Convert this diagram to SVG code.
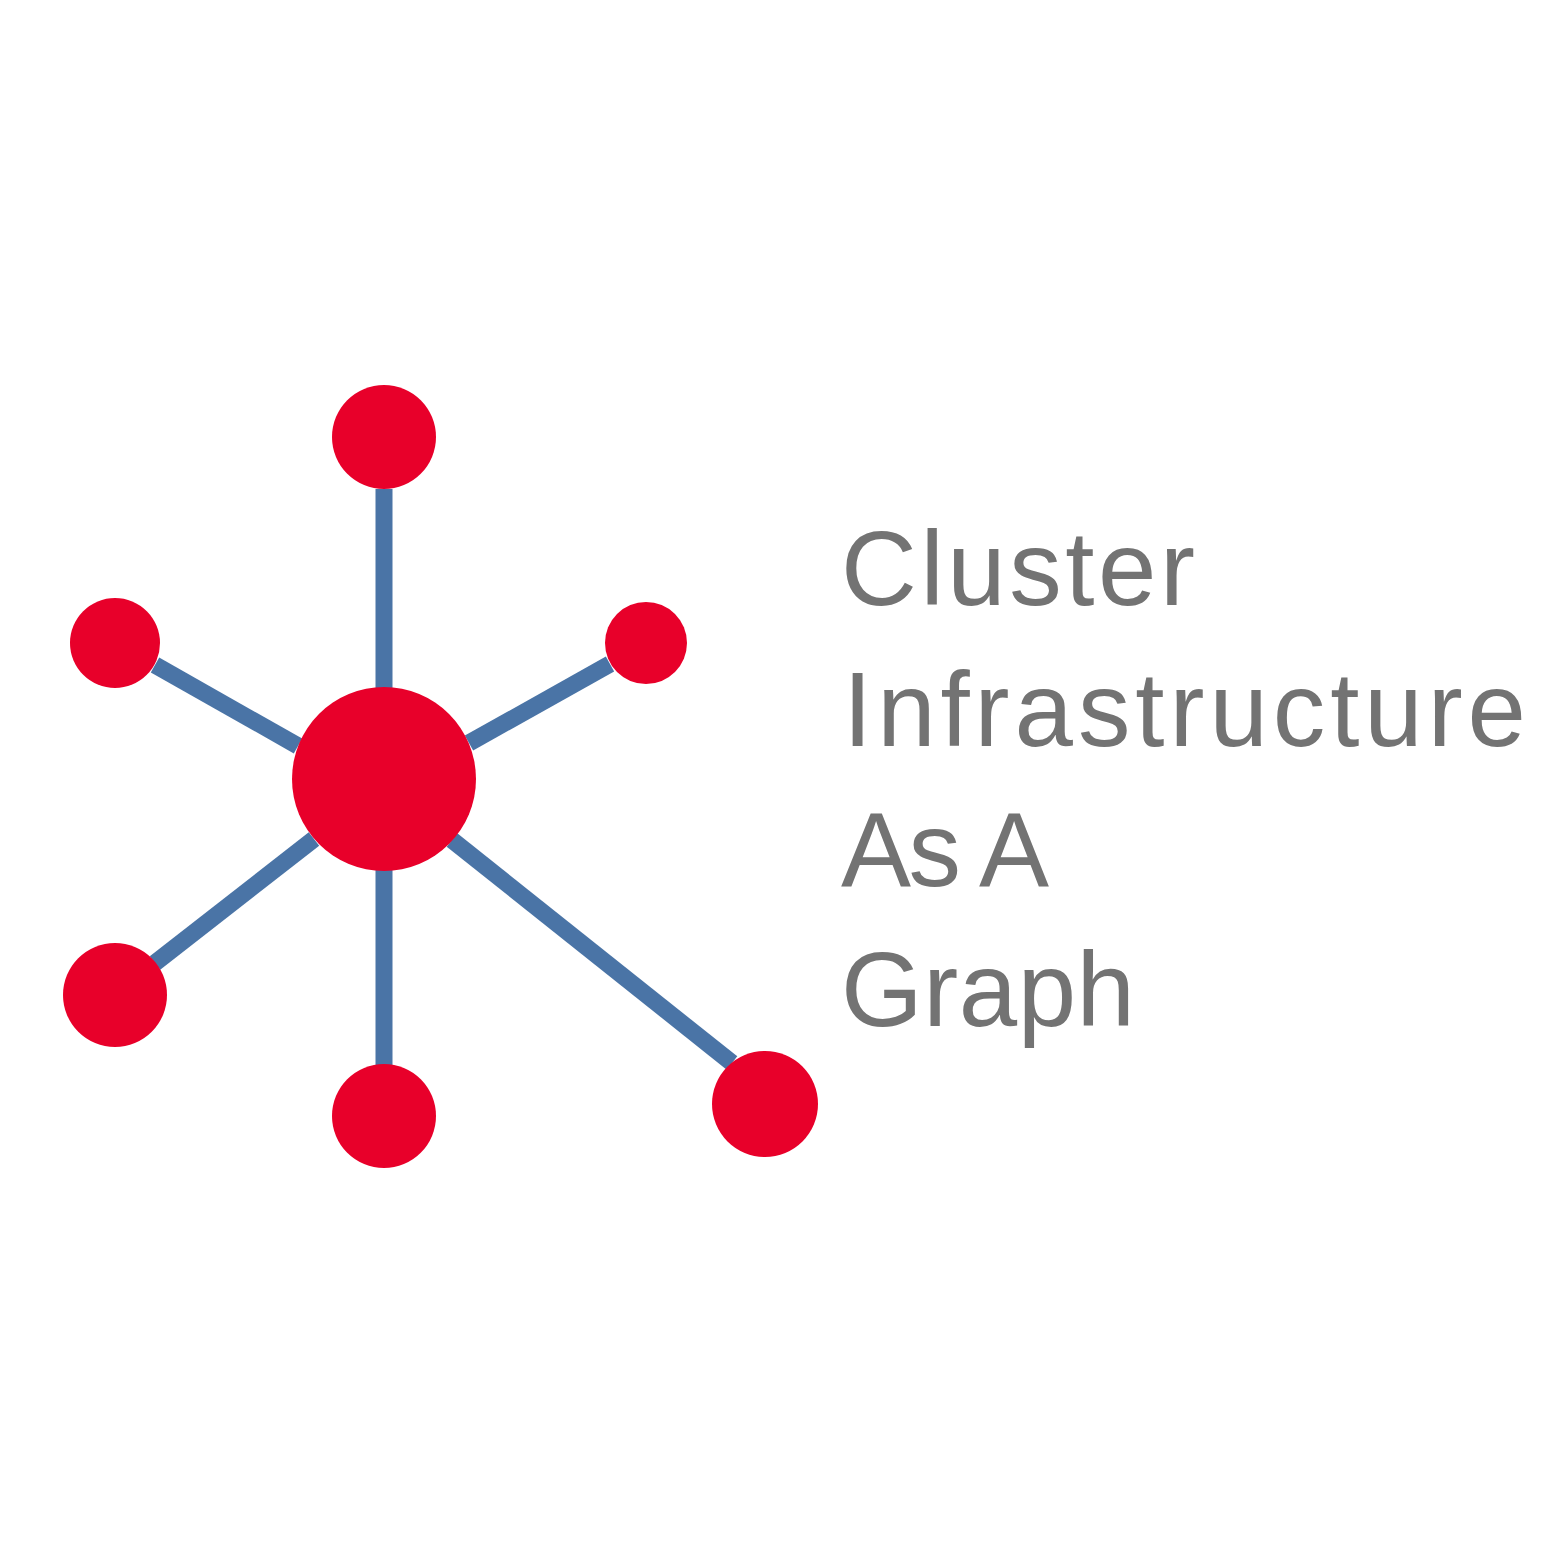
<svg xmlns="http://www.w3.org/2000/svg" width="1563" height="1563" viewBox="0 0 1563 1563">
<style>
.edge{stroke:#4a74a6;stroke-width:17;fill:none}
.node{fill:#e8002a}
.label{font-family:"Liberation Sans",Arial,sans-serif;font-size:105px;fill:#737373}
</style>
<rect width="1563" height="1563" fill="#ffffff"/>
<g id="connectors">
<line class="edge" x1="384" y1="489" x2="384" y2="690"/>
<line class="edge" x1="155" y1="665" x2="298" y2="746"/>
<line class="edge" x1="610" y1="664" x2="469" y2="743"/>
<line class="edge" x1="155" y1="963" x2="314" y2="839"/>
<line class="edge" x1="384" y1="868" x2="384" y2="1066"/>
<line class="edge" x1="452" y1="840" x2="732" y2="1063"/>
</g>
<g id="center"><circle class="node" cx="384" cy="779" r="92"/></g>
<g id="top"><circle class="node" cx="384" cy="437" r="52"/></g>
<g id="upper-left"><circle class="node" cx="115" cy="643" r="45"/></g>
<g id="upper-right"><circle class="node" cx="646" cy="643" r="41"/></g>
<g id="lower-left"><circle class="node" cx="115" cy="995" r="52"/></g>
<g id="bottom"><circle class="node" cx="384" cy="1116" r="52"/></g>
<g id="lower-right"><circle class="node" cx="765" cy="1104" r="53"/></g>
<g id="title">
<text class="label" x="841" y="605" textLength="354" lengthAdjust="spacing">Cluster</text>
<text class="label" x="843" y="746" textLength="683" lengthAdjust="spacing">Infrastructure</text>
<text class="label" x="841" y="886" textLength="208" lengthAdjust="spacing">As A</text>
<text class="label" x="841" y="1026" textLength="294" lengthAdjust="spacing">Graph</text>
</g>
</svg>
